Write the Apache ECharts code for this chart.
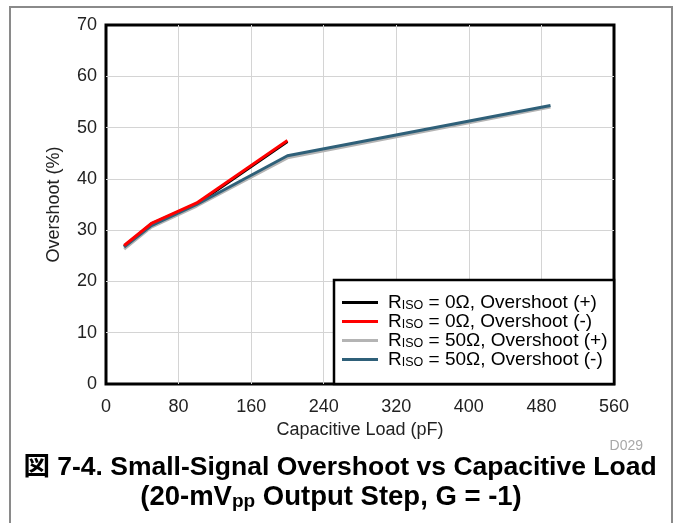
<!DOCTYPE html>
<html>
<head>
<meta charset="utf-8">
<script src="https://cdn.jsdelivr.net/npm/echarts@6/dist/echarts.min.js"></script>
<style>html,body{margin:0;padding:0;background:#fff}#c{width:676px;height:523px}</style>
</head>
<body>
<div id="c"></div>
<script>
// ---- data ----
const capLoad0 = [20, 50, 100, 200];            // pF, RISO = 0 ohm
const capLoad50 = [20, 50, 100, 200, 490];      // pF, RISO = 50 ohm
const over0Pos = [26.8, 31.2, 35.1, 47.3];
const over0Neg = [27.0, 31.3, 35.3, 47.5];
const over50Pos = [26.3, 30.6, 34.7, 44.1, 54.0];
const over50Neg = [26.7, 30.9, 35.0, 44.5, 54.3];
const seriesNames = ['RISO = 0Ω, Overshoot (+)', 'RISO = 0Ω, Overshoot (-)', 'RISO = 50Ω, Overshoot (+)', 'RISO = 50Ω, Overshoot (-)'];
const legendSuffix = [' = 0Ω, Overshoot (+)', ' = 0Ω, Overshoot (-)', ' = 50Ω, Overshoot (+)', ' = 50Ω, Overshoot (-)'];
const xTicks = [0, 80, 160, 240, 320, 400, 480, 560];
const yTicks = [0, 10, 20, 30, 40, 50, 60, 70];

const zip = (xs, ys) => xs.map((x, i) => [x, ys[i]]);
const FONT = '"Liberation Sans", Arial, "Noto Sans CJK JP", sans-serif';
const colors = ['#000000', '#ff0000', '#b4b4b4', '#2f6079'];

const chart = echarts.init(document.getElementById('c'), null, {renderer: 'canvas'});
const mk = (i, data) => ({
  name: seriesNames[i], type: 'line', data: data, showSymbol: false, symbol: 'none',
  lineStyle: {color: colors[i], width: 3}, itemStyle: {color: colors[i]}, z: 3 + (i === 1 ? 2 : 0)
});
chart.setOption({
  animation: false,
  textStyle: {fontFamily: FONT},
  grid: {left: 106, top: 25, width: 508, height: 359, show: true, borderColor: '#000', borderWidth: 3, backgroundColor: 'transparent'},
  xAxis: {
    type: 'value', min: xTicks[0], max: xTicks[xTicks.length - 1], interval: 80,
    name: 'Capacitive Load (pF)', nameLocation: 'middle', nameGap: 36,
    nameTextStyle: {fontSize: 18, color: '#222', fontFamily: FONT},
    axisLine: {show: false}, axisTick: {show: false},
    axisLabel: {fontSize: 18, color: '#222', margin: 14, fontFamily: FONT},
    splitLine: {show: true, showMinLine: false, showMaxLine: false, lineStyle: {color: '#d4d4d4', width: 1}}
  },
  yAxis: {
    type: 'value', min: yTicks[0], max: yTicks[yTicks.length - 1], interval: 10,
    name: 'Overshoot (%)', nameLocation: 'middle', nameGap: 43,
    nameTextStyle: {fontSize: 18, color: '#222', fontFamily: FONT},
    axisLine: {show: false}, axisTick: {show: false},
    axisLabel: {fontSize: 18, color: '#222', margin: 9, fontFamily: FONT},
    splitLine: {show: true, showMinLine: false, showMaxLine: false, lineStyle: {color: '#d4d4d4', width: 1}}
  },
  legend: {
    orient: 'vertical', left: 342, top: 293, padding: 0,
    itemWidth: 36, itemHeight: 3, itemGap: 0, icon: 'rect',
    data: seriesNames,
    formatter: function (name) {
      const i = seriesNames.indexOf(name);
      return '{a|R}{s|ISO}{a|' + legendSuffix[i] + '}';
    },
    textStyle: {
      color: '#000', fontFamily: FONT, padding: [0, 0, 0, 5],
      rich: {
        a: {fontSize: 19, lineHeight: 19, verticalAlign: 'bottom', color: '#000', fontFamily: FONT},
        s: {fontSize: 12.5, lineHeight: 9, verticalAlign: 'bottom', color: '#000', fontFamily: FONT}
      }
    }
  },
  series: [mk(0, zip(capLoad0, over0Pos)), mk(1, zip(capLoad0, over0Neg)), mk(2, zip(capLoad50, over50Pos)), mk(3, zip(capLoad50, over50Neg))],
  graphic: [
    {type: 'rect', z: 0, shape: {x: 10, y: 7, width: 662, height: 530}, style: {fill: 'none', stroke: '#8a8a8a', lineWidth: 2}, silent: true},
    {type: 'rect', z: 4, shape: {x: 334, y: 280, width: 280, height: 104}, style: {fill: '#fff', stroke: '#000', lineWidth: 2.5}, silent: true},
    {type: 'text', x: 643, y: 446, style: {text: 'D029', fill: '#a8a8a8', font: '14px ' + FONT, align: 'right', verticalAlign: 'middle'}},
    {type: 'text', x: 340, y: 468, style: {text: '図 7-4. Small-Signal Overshoot vs Capacitive Load', fill: '#000', font: 'bold 26.5px ' + FONT, align: 'center', verticalAlign: 'middle'}},
    {type: 'text', x: 331, y: 497, style: {
      text: '{m|(20-mV}{s|pp}{m| Output Step, G = -1)}', align: 'center', verticalAlign: 'middle',
      rich: {
        m: {font: 'bold 27.5px ' + FONT, fill: '#000', lineHeight: 28, verticalAlign: 'bottom'},
        s: {font: 'bold 19px ' + FONT, fill: '#000', lineHeight: 14, verticalAlign: 'bottom'}
      }
    }}
  ]
});
</script>
</body>
</html>
